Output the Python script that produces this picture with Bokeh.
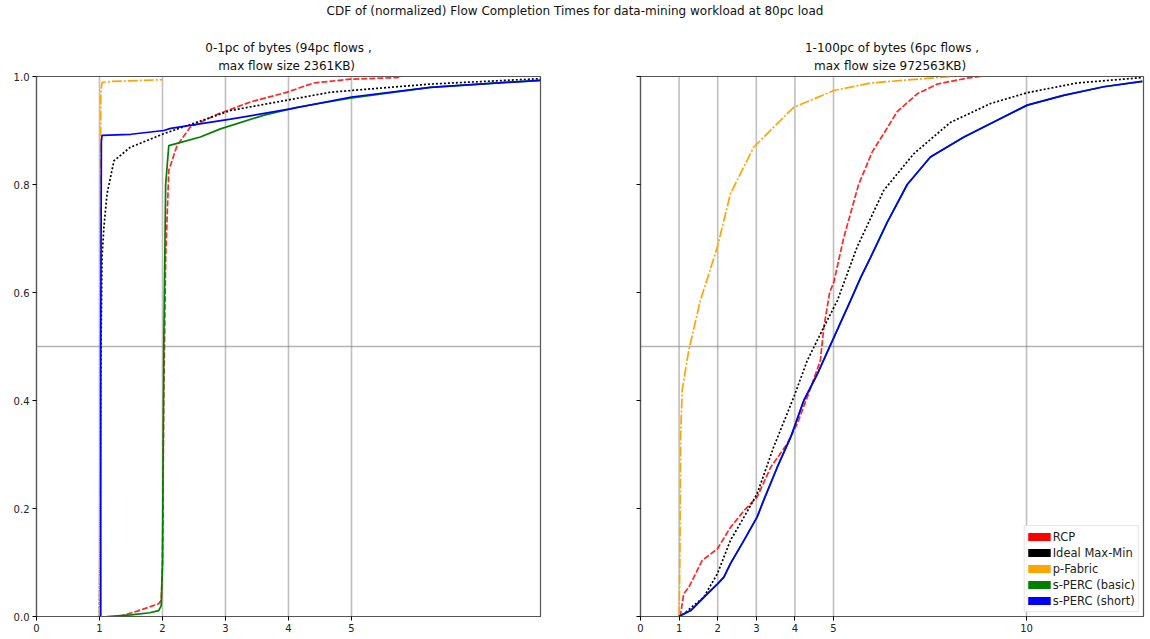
from bokeh.plotting import figure
from bokeh.layouts import column, row
from bokeh.models import (Div, Span, Title, FixedTicker, PrintfTickFormatter,
                          Range1d, Legend, LegendItem)
from bokeh.embed import file_html
from bokeh.resources import INLINE

# ---- data: normalized FCT (x) vs cumulative fraction (y) ----
# Short flows: 0-1pc of bytes
rcp_small_x = [1.31, 1.6, 1.94, 1.98, 2.0, 2.02, 2.05, 2.1, 2.23, 2.44, 2.87, 3.4, 3.98, 4.4, 4.98, 5.73, 5.8]
rcp_small_y = [0.0, 0.01, 0.0235, 0.03, 0.1, 0.4, 0.665, 0.826, 0.872, 0.906, 0.93, 0.953, 0.971, 0.988, 0.995, 0.998, 1.0]

ideal_small_x = [1.0, 1.01, 1.02, 1.04, 1.07, 1.12, 1.23, 1.49, 2.02, 3.08, 4.67, 6.25, 8.0]
ideal_small_y = [0.0, 0.2, 0.45, 0.665, 0.721, 0.783, 0.844, 0.869, 0.894, 0.937, 0.971, 0.986, 0.996]

pfabric_small_x = [1.0, 1.01, 1.02, 1.04, 1.2, 2.0]
pfabric_small_y = [0.0, 0.5, 0.97, 0.989, 0.991, 0.994]

basic_small_x = [1.12, 1.5, 1.8, 1.94, 1.98, 2.0, 2.02, 2.05, 2.1, 2.29, 2.6, 2.92, 3.6, 4.14, 4.98, 6.25, 8.0]
basic_small_y = [0.0, 0.003, 0.007, 0.011, 0.02, 0.1, 0.5, 0.8, 0.872, 0.878, 0.888, 0.903, 0.928, 0.943, 0.96, 0.98, 0.993]

short_small_x = [1.02, 1.02, 1.03, 1.04, 1.5, 2.02, 2.13, 3.08, 4.03, 5.0, 6.25, 8.0]
short_small_y = [0.0, 0.5, 0.88, 0.891, 0.893, 0.9, 0.904, 0.921, 0.94, 0.962, 0.98, 0.993]

# Long flows: 1-100pc of bytes
rcp_large_x = [1.0, 1.04, 1.12, 1.25, 1.6, 1.99, 2.33, 2.68, 3.02, 3.37, 3.8, 4.06, 4.32, 4.66, 4.75, 4.9, 5.01, 5.26, 5.65, 6.0, 6.35, 6.65, 7.17, 7.69, 8.46, 8.8]
rcp_large_y = [0.0, 0.005, 0.042, 0.054, 0.104, 0.125, 0.165, 0.196, 0.221, 0.276, 0.32, 0.357, 0.406, 0.474, 0.536, 0.6, 0.62, 0.7, 0.8, 0.86, 0.9, 0.935, 0.968, 0.986, 0.997, 1.0]

ideal_large_x = [1.0, 1.12, 1.64, 1.99, 2.33, 2.68, 3.02, 3.45, 3.97, 4.32, 4.75, 5.1, 5.61, 6.3, 7.08, 8.03, 9.07, 10.02, 11.31, 13.0]
ideal_large_y = [0.0, 0.005, 0.036, 0.079, 0.141, 0.184, 0.227, 0.314, 0.406, 0.474, 0.536, 0.585, 0.684, 0.789, 0.857, 0.915, 0.95, 0.97, 0.988, 0.998]

pfabric_large_x = [1.0, 1.02, 1.04, 1.08, 1.25, 1.55, 1.99, 2.33, 2.93, 3.63, 3.97, 5.01, 5.96, 7.51, 8.1]
pfabric_large_y = [0.0, 0.1, 0.338, 0.419, 0.493, 0.585, 0.684, 0.783, 0.869, 0.919, 0.943, 0.974, 0.988, 0.997, 1.0]

basic_large_x = [1.0, 1.04, 1.3, 1.73, 1.99, 2.16, 2.33, 2.68, 3.02, 3.19, 3.54, 3.89, 4.23, 4.58, 5.01, 5.44, 5.7, 5.96, 6.39, 6.91, 7.51, 8.38, 9.24, 10.02, 10.96, 12.0, 13.0]
basic_large_y = [0.0, 0.002, 0.011, 0.042, 0.06, 0.073, 0.098, 0.141, 0.184, 0.215, 0.276, 0.332, 0.4, 0.449, 0.517, 0.585, 0.627, 0.665, 0.73, 0.8, 0.851, 0.888, 0.919, 0.947, 0.965, 0.981, 0.991]

short_large_x = [1.0, 1.04, 1.3, 1.73, 1.99, 2.16, 2.33, 2.68, 3.02, 3.19, 3.54, 3.89, 4.23, 4.58, 5.01, 5.44, 5.7, 5.96, 6.39, 6.91, 7.51, 8.38, 9.24, 10.02, 10.96, 12.0, 13.0]
short_large_y = [0.0, 0.002, 0.011, 0.042, 0.06, 0.073, 0.098, 0.141, 0.184, 0.215, 0.276, 0.332, 0.4, 0.449, 0.517, 0.585, 0.627, 0.665, 0.73, 0.8, 0.851, 0.888, 0.919, 0.947, 0.965, 0.981, 0.991]

series_names = ["RCP", "Ideal Max-Min", "p-Fabric", "s-PERC (basic)", "s-PERC (short)"]
series_colors = ["red", "black", "orange", "green", "blue"]
series_dashes = ["6 2", "2 2", "10 2 2 2", "solid", "solid"]

left_xticks = [0, 1, 2, 3, 4, 5]
right_xticks = [0, 1, 2, 3, 4, 5, 10]
yticks = [0.0, 0.2, 0.4, 0.6, 0.8, 1.0]
left_marks = [1, 2, 3, 4, 5]
right_marks = [1, 2, 3, 4, 5, 10]
median_mark = 0.5

FONT = "DejaVu Sans"


def make_panel(width, xmax, xticks, marks, border_left, border_right, line1, line2, show_ylabels):
    p = figure(width=width, height=617, output_backend="svg", toolbar_location=None,
               x_range=Range1d(0, xmax), y_range=Range1d(0, 1),
               min_border_left=border_left, min_border_right=border_right,
               min_border_top=54, min_border_bottom=23)
    p.grid.visible = False
    p.outline_line_color = "#555555"
    p.outline_line_width = 1.2
    p.background_fill_color = "white"
    p.border_fill_color = "white"

    p.xaxis.ticker = FixedTicker(ticks=xticks)
    p.xaxis.formatter = PrintfTickFormatter(format="%d")
    p.yaxis.ticker = FixedTicker(ticks=yticks)
    p.yaxis.formatter = PrintfTickFormatter(format="%.1f")
    for ax in (p.xaxis[0], p.yaxis[0]):
        ax.axis_line_color = "#555555"
        ax.axis_line_width = 1.2
        ax.major_tick_out = 4
        ax.major_tick_in = 0
        ax.minor_tick_line_color = None
        ax.major_tick_line_color = "black"
        ax.major_label_text_font = FONT
        ax.major_label_text_font_size = "10px"
        ax.major_label_text_color = "#222222"
        ax.major_label_standoff = 3
    if not show_ylabels:
        p.yaxis.major_label_text_color = None

    for m in marks:
        p.add_layout(Span(location=m, dimension="height", line_color="gray",
                          line_alpha=0.5, line_width=1.6, level="underlay"))
    p.add_layout(Span(location=median_mark, dimension="width", line_color="gray",
                      line_alpha=0.6, line_width=1.4, level="underlay"))

    p.add_layout(Title(text=line2, align="center", text_font=FONT, text_font_size="12px",
                       text_font_style="normal", text_color="#111111", standoff=7), "above")
    p.add_layout(Title(text=line1, align="center", text_font=FONT, text_font_size="12px",
                       text_font_style="normal", text_color="#111111", standoff=-2), "above")
    return p


def draw_series(p, xs, ys):
    for (x, y), c, d in zip(zip(xs, ys), series_colors, series_dashes):
        p.line(x, y, line_color=c, line_width=1.7, line_dash=d, line_alpha=0.85 if c == "red" else 1.0)


p1 = make_panel(600, 8, left_xticks, left_marks, 36, 60,
                "0-1pc of bytes (94pc flows ,", " max flow size 2361KB)", True)
draw_series(p1,
            [rcp_small_x, ideal_small_x, pfabric_small_x, basic_small_x, short_small_x],
            [rcp_small_y, ideal_small_y, pfabric_small_y, basic_small_y, short_small_y])

p2 = make_panel(550, 13.03, right_xticks, right_marks, 40, 7,
                "1-100pc of bytes (6pc flows ,", " max flow size 972563KB)", False)
large_x = [rcp_large_x, ideal_large_x, pfabric_large_x, basic_large_x, short_large_x]
large_y = [rcp_large_y, ideal_large_y, pfabric_large_y, basic_large_y, short_large_y]
draw_series(p2, large_x, large_y)

# Legend with solid colour patches: hidden thick-line renderers act as swatches
items = []
for name, c, x, y in zip(series_names, series_colors, large_x, large_y):
    r = p2.line(x, y, line_color=c, line_width=8, line_cap="butt", visible=False)
    items.append(LegendItem(label=name, renderers=[r]))
legend = Legend(items=items, location="bottom_right", margin=4, padding=3,
                spacing=1, glyph_width=23, glyph_height=15, label_height=15,
                label_standoff=2, label_text_font=FONT, label_text_font_size="11.5px",
                label_text_color="#222222", inactive_fill_alpha=0,
                border_line_color="#cccccc", border_line_width=1,
                background_fill_color="white", background_fill_alpha=0.85)
p2.add_layout(legend)

header = Div(text="CDF of (normalized) Flow Completion Times for data-mining workload at 80pc load",
             width=1150, height=22, margin=(0, 0, 0, 0),
             styles={"font-family": FONT, "font-size": "12px", "text-align": "center",
                     "color": "#111111", "width": "1150px", "line-height": "22px"})

layout = column(header, row(p1, p2, spacing=0), spacing=0)

with open("out.html", "w") as f:
    f.write(file_html(layout, INLINE, title="FCT CDF"))
